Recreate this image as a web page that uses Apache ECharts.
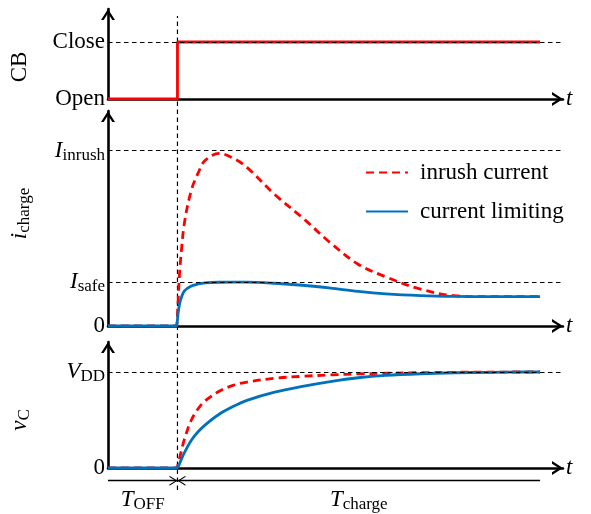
<!DOCTYPE html>
<html>
<head>
<meta charset="utf-8">
<script src="https://cdn.jsdelivr.net/npm/echarts@6/dist/echarts.min.js"></script>
<style>
  html, body { margin: 0; padding: 0; background: #fff; }
  #chart { width: 591px; height: 514px; }
</style>
</head>
<body>
<div id="chart"></div>
<script>
// ---- time base (t = 1 is the instant the breaker closes, T_OFF) ----
const T_OFF = 1;
const T_END = 6.22;
const T_AXIS_MAX = 6.55;

// breaker state: 0 = Open, 1 = Close
const cbTimes = [0, T_OFF, T_OFF, T_END];
const cbState = [0, 0, 1, 1];

// sample instants shared by the charging curves
const tSamples = [0, 0.99, 1.0, 1.01, 1.03, 1.05, 1.1, 1.2, 1.3, 1.4, 1.6, 1.8, 2.0, 2.4, 2.8, 3.2, 3.6, 4.0, 4.5, 5.0, 5.5, 6.0, 6.22];

// charging current, in units of I_safe
const iInrush  = [0, 0, 0, 0.6, 1.2, 1.6, 2.35, 3.1, 3.5, 3.78, 3.94, 3.83, 3.62, 3.0, 2.47, 1.9, 1.41, 1.12, 0.84, 0.69, 0.67, 0.67, 0.67];
const iLimited = [0, 0, 0, 0.3, 0.5, 0.62, 0.8, 0.91, 0.96, 0.985, 0.998, 1.0, 1.0, 0.975, 0.93, 0.865, 0.79, 0.735, 0.695, 0.675, 0.67, 0.67, 0.67];

// capacitor voltage, in units of V_DD
const vInrush  = [0, 0, 0, 0.04, 0.1, 0.16, 0.3, 0.5, 0.62, 0.7, 0.8, 0.86, 0.895, 0.935, 0.955, 0.97, 0.98, 0.987, 0.993, 0.997, 0.999, 1, 1];
const vLimited = [0, 0, 0, 0.015, 0.045, 0.08, 0.16, 0.29, 0.38, 0.45, 0.56, 0.64, 0.705, 0.79, 0.85, 0.9, 0.94, 0.965, 0.982, 0.992, 0.997, 1, 1];

// labelled levels on each vertical axis
const cbLevels = [0, 1];
const cbLabels = ['{rm|Open}', '{rm|Close}'];
const iLevels = [0, 1, 4];
const iLabels = ['{rm|0}', '{it|I}{sub|safe}', '{it|I}{sub|inrush}'];
const vLevels = [0, 1];
const vLabels = ['{rm|0}', '{it|V}{sub|DD}'];

// guide / annotation levels on the overlay axis
const GUIDE_BOTTOM = -0.02;
const GUIDE_TOP = 1;
const ANNOT_LEVEL = 0;

const SERIF = '"Liberation Serif", "Times New Roman", serif';
const RED = '#ff0000';
const BLUE = '#0072bd';
const ARROW = 'path://M0,11L7,0L14,11L11.3,11L7,4.3L2.7,11Z';
const HEAD = 'path://M0,8L5,0L10,8L8.8,8L5,2L1.2,8Z';

const rich = {
  it:  { fontFamily: SERIF, fontStyle: 'italic', fontSize: 23, color: '#000', lineHeight: 26 },
  rm:  { fontFamily: SERIF, fontSize: 23, color: '#000', lineHeight: 26 },
  sub: { fontFamily: SERIF, fontSize: 17, color: '#000', lineHeight: 16, verticalAlign: 'bottom' }
};

const zip = (xs, ys) => xs.map((x, i) => [x, ys[i]]);

const axisLineStyle = { color: '#000', width: 2.6 };

function timeAxis(gridIndex) {
  return {
    type: 'value', gridIndex, min: 0, max: T_AXIS_MAX,
    axisLine: { show: true, onZero: false, lineStyle: axisLineStyle,
      symbol: ['none', ARROW], symbolSize: [14, 11], symbolOffset: [0, -5.5] },
    axisTick: { show: false }, axisLabel: { show: false }, splitLine: { show: false },
    name: 't', nameLocation: 'end', nameGap: 3,
    nameTextStyle: { fontFamily: SERIF, fontStyle: 'italic', fontSize: 23, color: '#000' }
  };
}

function levelAxis(gridIndex, max, levels, labels, name, namePad) {
  return {
    type: 'value', gridIndex, min: 0, max,
    axisLine: { show: true, onZero: false, lineStyle: axisLineStyle,
      symbol: ['none', ARROW], symbolSize: [14, 11], symbolOffset: [0, -5.5] },
    axisTick: { show: false }, splitLine: { show: false },
    axisLabel: {
      customValues: levels, margin: 3, rich,
      formatter: v => labels[levels.indexOf(v)]
    },
    name, nameLocation: 'middle', nameRotate: 90, nameGap: 75,
    nameTextStyle: { rich, padding: namePad }
  };
}

function guide(gridIndex, levels) {
  return {
    type: 'line', xAxisIndex: gridIndex, yAxisIndex: gridIndex, z: 1,
    data: [[0, 0]], symbol: 'none', lineStyle: { width: 0 },
    markLine: {
      silent: true, symbol: 'none', animation: false,
      lineStyle: { color: '#000', width: 1.2, type: [4.5, 3.5] },
      label: { show: false },
      data: levels.map(l => ({ yAxis: l }))
    }
  };
}

function curve(name, gridIndex, ys, color, dashed) {
  return {
    name, type: 'line', xAxisIndex: gridIndex, yAxisIndex: gridIndex,
    data: zip(tSamples, ys), symbol: 'none', showSymbol: false,
    smooth: 0.35, z: dashed ? 3 : 4,
    lineStyle: { color, width: 2.8, type: dashed ? [8, 5] : 'solid' },
    itemStyle: { color }
  };
}

const option = {
  animation: false,
  backgroundColor: '#fff',
  grid: [
    { left: 108, width: 455, top: 9, height: 90 },
    { left: 108, width: 455, top: 111, height: 215 },
    { left: 108, width: 455, top: 342, height: 126 },
    { left: 108, width: 455, top: 16, height: 474 }
  ],
  xAxis: [timeAxis(0), timeAxis(1), timeAxis(2),
    { type: 'value', gridIndex: 3, min: 0, max: T_AXIS_MAX, show: false }],
  yAxis: [
    levelAxis(0, 90 / 57, cbLevels, cbLabels, '{rm|CB}', [0, 26, 0, 0]),
    levelAxis(1, 215 / 43.83, iLevels, iLabels, '{it|i}{sub|charge}', [0, 0, 0, 10]),
    levelAxis(2, 126 / 96, vLevels, vLabels, '{it|v}{sub|C}', [0, 30, 0, 0]),
    { type: 'value', gridIndex: 3, min: GUIDE_BOTTOM, max: GUIDE_TOP, show: false }
  ],
  legend: {
    orient: 'vertical', left: 365, top: 161, padding: 0,
    itemWidth: 42, itemHeight: 14, itemGap: 16,
    itemStyle: { opacity: 0 },
    data: ['inrush current', 'current limiting'],
    textStyle: { fontFamily: SERIF, fontSize: 23, color: '#000', padding: [0, 0, 0, 7] }
  },
  series: [
    guide(0, [cbLevels[1]]),
    guide(1, [iLevels[1], iLevels[2]]),
    guide(2, [vLevels[1]]),
    {
      name: 'CB', type: 'line', xAxisIndex: 0, yAxisIndex: 0,
      data: zip(cbTimes, cbState), symbol: 'none', z: 4,
      lineStyle: { color: RED, width: 2.8 }
    },
    curve('inrush current', 1, iInrush, RED, true),
    curve('current limiting', 1, iLimited, BLUE, false),
    curve('inrush current', 2, vInrush, RED, true),
    curve('current limiting', 2, vLimited, BLUE, false),
    {
      // breaker closing instant, drawn through all three panels
      type: 'line', xAxisIndex: 3, yAxisIndex: 3, z: 1,
      data: [[T_OFF, GUIDE_BOTTOM], [T_OFF, GUIDE_TOP]], symbol: 'none',
      lineStyle: { color: '#000', width: 1.2, type: [4.5, 3.5] }
    },
    {
      // interval annotations below the time axis
      type: 'line', xAxisIndex: 3, yAxisIndex: 3, z: 2,
      data: [[0, ANNOT_LEVEL]], symbol: 'none', lineStyle: { width: 0 },
      markLine: {
        silent: true, animation: false, symbol: 'none', symbolSize: [10, 8],
        lineStyle: { color: '#000', width: 1.4, type: 'solid' },
        label: { show: true, position: 'insideMiddleBottom', distance: 6, rich },
        data: [
          [{ coord: [0, ANNOT_LEVEL], symbol: 'none', label: { formatter: '{it|T}{sub|OFF}' } },
           { coord: [T_OFF, ANNOT_LEVEL], symbol: HEAD, symbolOffset: [0, 4] }],
          [{ coord: [T_OFF, ANNOT_LEVEL], symbol: HEAD, symbolOffset: [0, 4], label: { formatter: '{it|T}{sub|charge}' } },
           { coord: [T_END, ANNOT_LEVEL], symbol: 'none' }]
        ]
      }
    }
  ]
};

const chart = echarts.init(document.getElementById('chart'));
chart.setOption(option);
</script>
</body>
</html>
